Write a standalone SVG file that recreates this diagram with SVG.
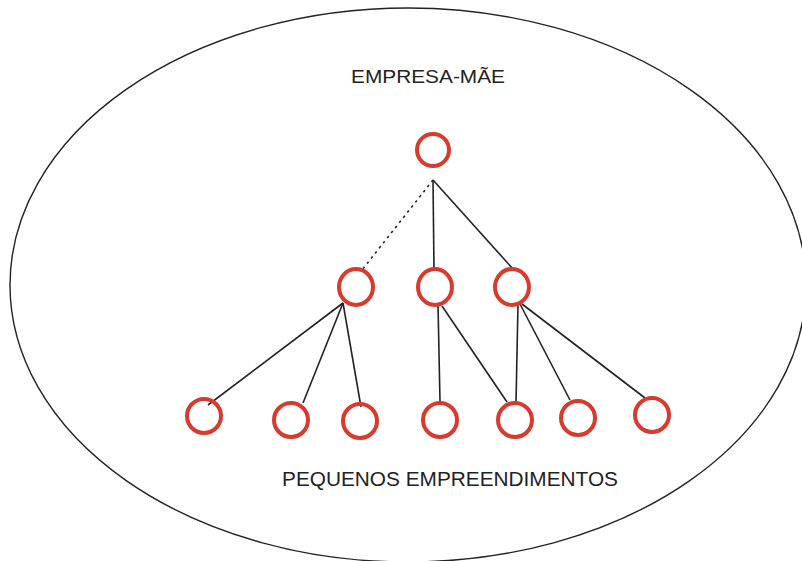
<svg xmlns="http://www.w3.org/2000/svg" width="802" height="561" viewBox="0 0 802 561">
  <style>
    .node { fill: none; stroke: #d93a2e; stroke-width: 4; }
    .link { fill: none; stroke: #222; stroke-width: 1.6; }
    .dotted { stroke-dasharray: 2.5 4; }
    .label { font-family: "Liberation Sans", Arial, sans-serif; fill: #222; }
  </style>
  <rect width="802" height="561" fill="#fff"/>
  <!-- outer boundary -->
  <ellipse id="boundary" cx="408" cy="285" rx="398" ry="277" fill="none" stroke="#222" stroke-width="1.4"/>

  <text class="label" x="351" y="83" font-size="19" textLength="154" lengthAdjust="spacingAndGlyphs">EMPRESA-MÃE</text>
  <text class="label" x="282" y="486" font-size="20" textLength="336" lengthAdjust="spacingAndGlyphs">PEQUENOS EMPREENDIMENTOS</text>

  <g id="connectors">
    <line class="link dotted" x1="433" y1="180" x2="362" y2="270"/>
    <line class="link" x1="433" y1="180" x2="434" y2="269"/>
    <line class="link" x1="433" y1="180" x2="513" y2="269"/>

    <line class="link" x1="343" y1="303" x2="208" y2="405"/>
    <line class="link" x1="343" y1="303" x2="303" y2="403"/>
    <line class="link" x1="343" y1="303" x2="361" y2="407"/>

    <line class="link" x1="438" y1="304" x2="440" y2="402"/>
    <line class="link" x1="442" y1="306" x2="507" y2="402"/>

    <line class="link" x1="518" y1="304" x2="516" y2="403"/>
    <line class="link" x1="520" y1="304" x2="570" y2="400"/>
    <line class="link" x1="522" y1="304" x2="645" y2="398"/>
  </g>

  <g id="n-root"><ellipse class="node" cx="433" cy="150" rx="16" ry="16"/></g>

  <g id="n-mid-1"><ellipse class="node" cx="356" cy="287" rx="17" ry="18"/></g>
  <g id="n-mid-2"><ellipse class="node" cx="435" cy="287" rx="17" ry="18"/></g>
  <g id="n-mid-3"><ellipse class="node" cx="512" cy="287" rx="17" ry="18"/></g>

  <g id="n-leaf-1"><ellipse class="node" cx="204" cy="416" rx="17" ry="17"/></g>
  <g id="n-leaf-2"><ellipse class="node" cx="291" cy="420" rx="17" ry="17"/></g>
  <g id="n-leaf-3"><ellipse class="node" cx="360" cy="421" rx="17" ry="17"/></g>
  <g id="n-leaf-4"><ellipse class="node" cx="440" cy="420" rx="17" ry="17"/></g>
  <g id="n-leaf-5"><ellipse class="node" cx="515" cy="420" rx="17" ry="17"/></g>
  <g id="n-leaf-6"><ellipse class="node" cx="578" cy="418" rx="17" ry="17"/></g>
  <g id="n-leaf-7"><ellipse class="node" cx="652" cy="415" rx="17" ry="17"/></g>
</svg>
